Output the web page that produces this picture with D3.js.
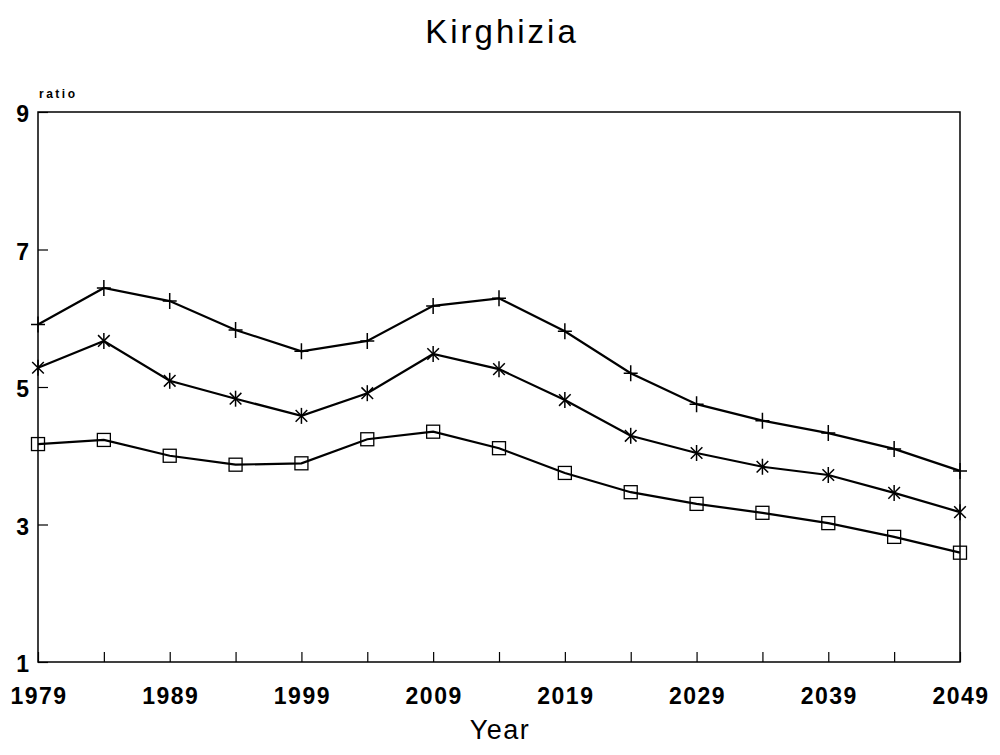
<!DOCTYPE html>
<html>
<head>
<meta charset="utf-8">
<script src="https://cdn.jsdelivr.net/npm/d3@7"></script>
<style>
  body { margin: 0; background: #fff; }
  text { font-family: "Liberation Sans", Arial, sans-serif; fill: #000; }
</style>
</head>
<body>
<div id="chart"></div>
<script>
const years = [1979, 1984, 1989, 1994, 1999, 2004, 2009, 2014, 2019, 2024, 2029, 2034, 2039, 2044, 2049];
const plusSeries = [5.91, 6.44, 6.25, 5.83, 5.52, 5.67, 6.18, 6.29, 5.81, 5.20, 4.75, 4.51, 4.33, 4.10, 3.78];
const starSeries = [5.28, 5.67, 5.09, 4.83, 4.58, 4.91, 5.48, 5.26, 4.81, 4.29, 4.04, 3.84, 3.72, 3.46, 3.18];
const squareSeries = [4.17, 4.23, 4.00, 3.87, 3.89, 4.24, 4.35, 4.11, 3.75, 3.47, 3.30, 3.17, 3.02, 2.82, 2.59];
const yTicks = [1, 3, 5, 7, 9];
const xLabelYears = [1979, 1989, 1999, 2009, 2019, 2029, 2039, 2049];

const w = 1000, h = 755;
const plotLeft = 38, plotRight = 960, plotTop = 112, plotBottom = 662;

const svg = d3.select('#chart').append('svg')
    .attr('width', w)
    .attr('height', h);

const x = d3.scaleLinear().domain([1979, 2049]).range([plotLeft, plotRight]);
const y = d3.scaleLinear().domain([1, 9]).range([plotBottom, plotTop]);

// frame
svg.append('rect')
    .attr('x', plotLeft).attr('y', plotTop)
    .attr('width', plotRight - plotLeft).attr('height', plotBottom - plotTop)
    .attr('fill', 'none').attr('stroke', '#000').attr('stroke-width', 1.5);

// x axis: inward ticks every 5 years
const xAxis = d3.axisTop(x).tickValues(years).tickSize(10).tickFormat('');
svg.append('g')
    .attr('transform', `translate(0,${plotBottom})`)
    .call(xAxis)
    .call(g => g.select('.domain').remove())
    .call(g => g.selectAll('line').attr('stroke-width', 1.2));

svg.append('g')
    .selectAll('text')
    .data(xLabelYears)
    .enter().append('text')
    .attr('x', d => x(d) + 1)
    .attr('y', 704)
    .attr('text-anchor', 'middle')
    .style('font-size', '23px')
    .style('font-weight', 'bold')
    .style('letter-spacing', '1.5px')
    .text(d => d);

// y axis: inward ticks
const yAxis = d3.axisRight(y).tickValues(yTicks).tickSize(10).tickFormat('');
svg.append('g')
    .attr('transform', `translate(${plotLeft},0)`)
    .call(yAxis)
    .call(g => g.select('.domain').remove())
    .call(g => g.selectAll('line').attr('stroke-width', 1.2));

svg.append('g')
    .selectAll('text')
    .data(yTicks)
    .enter().append('text')
    .attr('x', 29)
    .attr('y', d => y(d) + 10)
    .attr('text-anchor', 'end')
    .style('font-size', '23px')
    .style('font-weight', 'bold')
    .text(d => d);

svg.append('text')
    .attr('x', 39).attr('y', 98)
    .style('font-size', '12px')
    .style('font-weight', 'bold')
    .style('letter-spacing', '2.5px')
    .text('ratio');

svg.append('text')
    .attr('x', 502).attr('y', 43)
    .attr('text-anchor', 'middle')
    .style('font-size', '33px')
    .style('letter-spacing', '3px')
    .text('Kirghizia');

svg.append('text')
    .attr('x', 500).attr('y', 739)
    .attr('text-anchor', 'middle')
    .style('font-size', '27px')
    .style('letter-spacing', '1.5px')
    .text('Year');

// lines
const line = d3.line()
    .x((d, i) => x(years[i]))
    .y(d => y(d));

const series = [
    { key: 'plus', values: plusSeries },
    { key: 'star', values: starSeries },
    { key: 'square', values: squareSeries }
];

svg.append('g')
    .selectAll('path')
    .data(series)
    .enter().append('path')
    .attr('d', d => line(d.values))
    .attr('fill', 'none')
    .attr('stroke', '#000')
    .attr('stroke-width', 2.2);

// markers
const marks = svg.append('g');

plusSeries.forEach((v, i) => {
    const cx = x(years[i]), cy = y(v);
    marks.append('path')
        .attr('d', `M${cx - 7},${cy}H${cx + 7}M${cx},${cy - 8}V${cy + 8}`)
        .attr('stroke', '#000').attr('stroke-width', 1.5);
});

starSeries.forEach((v, i) => {
    const cx = x(years[i]), cy = y(v);
    marks.append('path')
        .attr('d', d3.symbol().type(d3.symbolTimes).size(90)())
        .attr('transform', `translate(${cx},${cy})`)
        .attr('fill', 'none')
        .attr('stroke', '#000').attr('stroke-width', 1.5);
    marks.append('path')
        .attr('d', `M${cx},${cy - 8}V${cy + 8}`)
        .attr('stroke', '#000').attr('stroke-width', 1.5);
});

squareSeries.forEach((v, i) => {
    const cx = x(years[i]), cy = y(v);
    marks.append('rect')
        .attr('x', cx - 6.5).attr('y', cy - 6.5)
        .attr('width', 13).attr('height', 13)
        .attr('fill', 'none')
        .attr('stroke', '#000').attr('stroke-width', 1.3);
});
</script>
</body>
</html>
